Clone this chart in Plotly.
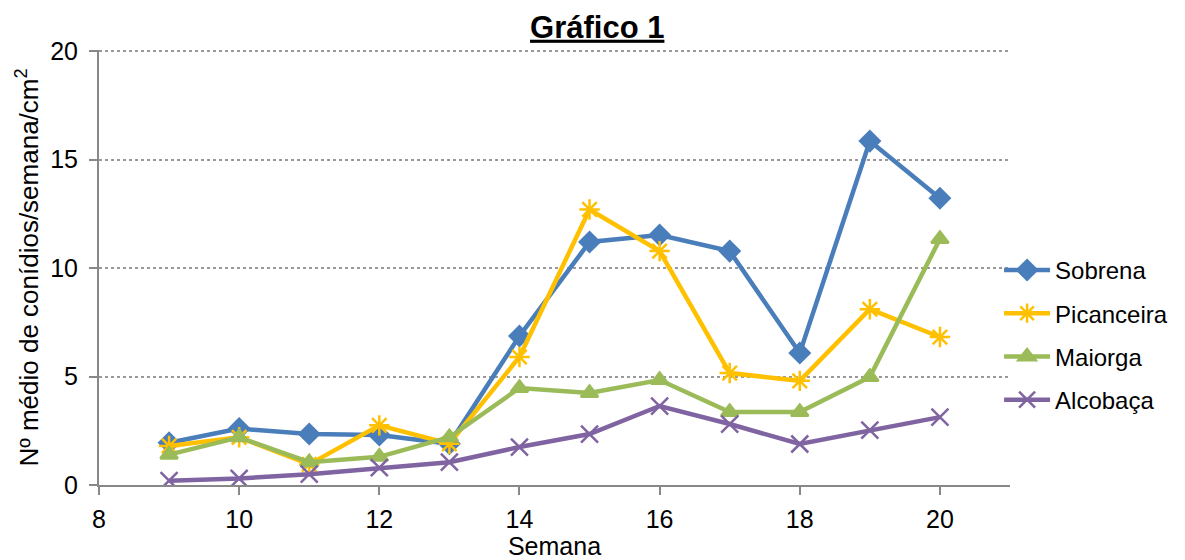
import plotly.graph_objects as go

semana = [9, 10, 11, 12, 13, 14, 15, 16, 17, 18, 19, 20]
sobrena = [1.95, 2.6, 2.35, 2.3, 1.9, 6.87, 11.2, 11.52, 10.78, 6.08, 15.85, 13.22]
picanceira = [1.8, 2.2, 0.95, 2.75, 1.9, 5.9, 12.7, 10.78, 5.16, 4.8, 8.1, 6.82]
maiorga = [1.4, 2.2, 1.05, 1.3, 2.2, 4.47, 4.24, 4.84, 3.36, 3.36, 4.98, 11.34]
alcobaca = [0.2, 0.3, 0.5, 0.8, 1.05, 1.75, 2.35, 3.64, 2.81, 1.89, 2.53, 3.13]

series = [
    ("Sobrena", sobrena, "#4A7EBB", "diamond", 15),
    ("Picanceira", picanceira, "#FFC000", "asterisk-open", 17),
    ("Maiorga", maiorga, "#9BBB59", "triangle-up", 15),
    ("Alcobaça", alcobaca, "#8064A2", "x-thin-open", 17),
]

fig = go.Figure()
for name, vals, color, sym, size in series:
    fig.add_trace(go.Scatter(
        x=semana, y=vals, name=name, mode="lines+markers",
        line=dict(color=color, width=4.5),
        marker=dict(symbol=sym, size=size, color=color,
                    line=dict(color=color, width=2.5)),
        legendgroup=name,
    ))

font = "Liberation Sans, Arial, sans-serif"
fig.update_layout(
    width=1185, height=560,
    paper_bgcolor="white", plot_bgcolor="white",
    margin=dict(l=99, r=172, t=50, b=75),
    font=dict(family=font, size=25, color="black"),
    title=dict(text="<b><u>Gráfico 1</u></b>", x=0.504, xanchor="center",
               y=0.952, yanchor="middle", font=dict(size=31)),
    legend=dict(x=0.988, xanchor="left", y=0.345, yanchor="middle",
                font=dict(size=24), tracegroupgap=9,
                bgcolor="rgba(0,0,0,0)", itemwidth=46),
    showlegend=True,
)
fig.update_xaxes(
    range=[8, 21], tickmode="array", tickvals=[8, 10, 12, 14, 16, 18, 20],
    showgrid=False, zeroline=False, automargin=False,
    showline=True, linecolor="#888888", linewidth=2,
    ticks="outside", ticklen=8, tickcolor="#888888", tickwidth=2,
    tickfont=dict(size=25), ticklabelstandoff=3,
    title=dict(text="Semana", standoff=6, font=dict(size=25)),
)
fig.update_yaxes(
    range=[0, 20.05], tickmode="array", tickvals=[0, 5, 10, 15, 20],
    showgrid=True, gridcolor="#999999", griddash="dot", gridwidth=1.5,
    zeroline=False, automargin=False,
    showline=True, linecolor="#888888", linewidth=2,
    ticks="outside", ticklen=8, tickcolor="#888888", tickwidth=2,
    tickfont=dict(size=25), ticklabelstandoff=6,
    title=dict(text="Nº médio de conídios/semana/cm<sup>2</sup>", standoff=4, font=dict(size=26)),
)

fig.write_html(
    "out.html",
    config={"displayModeBar": False},
    post_script="document.body.style.margin='0px';document.body.style.overflow='hidden';",
)
